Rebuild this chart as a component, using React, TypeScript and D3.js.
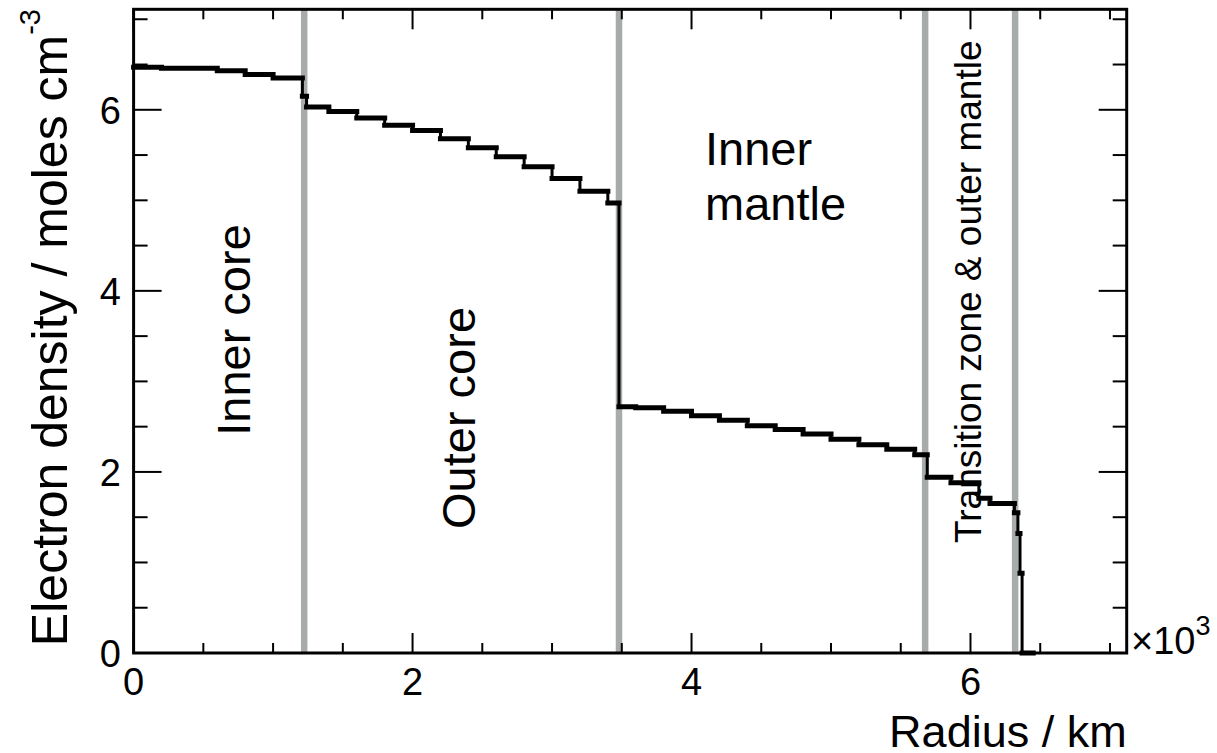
import React from 'react';
import * as d3 from 'd3';

// radius bin edges (x10^3 km) and electron density per bin (moles cm^-3)
const radiusEdges = [0, 0.2, 0.4, 0.6, 0.8, 1.0, 1.21, 1.24, 1.4, 1.6, 1.8, 2.0, 2.2, 2.4, 2.6, 2.8, 3.0, 3.2, 3.4, 3.48,
  3.6, 3.8, 4.0, 4.2, 4.4, 4.6, 4.8, 5.0, 5.2, 5.4, 5.6, 5.69, 5.86, 6.06, 6.14, 6.315, 6.34, 6.355, 6.37, 6.45];
const electronDensity = [6.47, 6.46, 6.46, 6.43, 6.39, 6.35, 6.15, 6.03, 5.98, 5.91, 5.83, 5.77, 5.68, 5.58, 5.48, 5.37,
  5.24, 5.10, 4.97, 2.72, 2.71, 2.67, 2.62, 2.57, 2.51, 2.47, 2.42, 2.36, 2.30, 2.25, 2.19, 1.94, 1.88, 1.71, 1.65, 1.55,
  1.32, 0.88, 0];

// layer boundaries (x10^3 km)
const boundaries = [1.223, 3.48, 5.675, 6.32];

const xMajor = [0, 2, 4, 6];
const yMajor = [0, 2, 4, 6];
const xMax = 7.12;
const yMax = 7.11;

const font = '"Liberation Sans", Arial, Helvetica, sans-serif';

const App = () => {
  const width = 1217;
  const height = 753;
  const left = 133.6, right = 1126.7, top = 9.3, bottom = 653;

  const x = d3.scaleLinear().domain([0, xMax]).range([left, right]);
  const y = d3.scaleLinear().domain([0, yMax]).range([bottom, top]);

  const minor = d3.range(0, 7.01, 0.5);
  const isMajor = (v: number) => Math.abs(v % 2) < 1e-9;

  // horizontal parts of the histogram
  let hPath = '';
  electronDensity.forEach((v, i) => {
    hPath += `M${x(radiusEdges[i])},${y(v)}H${x(radiusEdges[i + 1])}`;
  });
  // vertical risers between bins
  let vPath = '';
  for (let i = 1; i < electronDensity.length; i++) {
    vPath += `M${x(radiusEdges[i])},${y(electronDensity[i - 1])}V${y(electronDensity[i])}`;
  }

  return (
    <svg width={width} height={height} style={{ position: 'absolute', left: 0, top: 0, background: '#fff' }}
      fontFamily={font}>
      {boundaries.map((b, i) => (
        <line key={'b' + i} x1={x(b)} x2={x(b)} y1={top} y2={bottom} stroke="#a7aba9" strokeWidth={6.5} />
      ))}

      <path d={hPath} fill="none" stroke="#000" strokeWidth={5} strokeLinecap="square" />
      <path d={vPath} fill="none" stroke="#000" strokeWidth={3} />

      {/* ticks on all four sides */}
      {minor.map((t, i) => {
        const len = isMajor(t) ? 20 : 10;
        return (
          <g key={'xt' + i} stroke="#000" strokeWidth={2}>
            <line x1={x(t)} x2={x(t)} y1={bottom} y2={bottom - len} />
            <line x1={x(t)} x2={x(t)} y1={top} y2={top + len} />
          </g>
        );
      })}
      {minor.map((t, i) => {
        const len = isMajor(t) ? 28 : 14;
        return (
          <g key={'yt' + i} stroke="#000" strokeWidth={2}>
            <line x1={left} x2={left + len} y1={y(t)} y2={y(t)} />
            <line x1={right} x2={right - len} y1={y(t)} y2={y(t)} />
          </g>
        );
      })}

      <rect x={left} y={top} width={right - left} height={bottom - top} fill="none" stroke="#000" strokeWidth={3} />

      {xMajor.map(t => (
        <text key={'xl' + t} x={x(t)} y={695} textAnchor="middle" fontSize={38}>{t}</text>
      ))}
      {yMajor.map(t => (
        <text key={'yl' + t} x={121} y={y(t)} dy="0.38em" textAnchor="end" fontSize={38}>{t}</text>
      ))}

      <text x={1131} y={654} fontSize={38}>×10<tspan dy={-19} fontSize={27}>3</tspan></text>

      <text x={right} y={747} textAnchor="end" fontSize={45}>Radius / km</text>
      <text transform="translate(67,9) rotate(-90)" textAnchor="end" fontSize={50}>
        Electron density / moles cm<tspan dy={-27} fontSize={29}>-3</tspan>
      </text>

      <text transform="translate(250,330) rotate(-90)" textAnchor="middle" fontSize={47}>Inner core</text>
      <text transform="translate(475,418) rotate(-90)" textAnchor="middle" fontSize={47}>Outer core</text>
      <text x={705} y={165} fontSize={47}>Inner</text>
      <text x={705} y={220} fontSize={47}>mantle</text>
      <text transform="translate(981,543) rotate(-90)" textAnchor="start" fontSize={37}>Transition zone &amp; outer mantle</text>
    </svg>
  );
};

export default App;
